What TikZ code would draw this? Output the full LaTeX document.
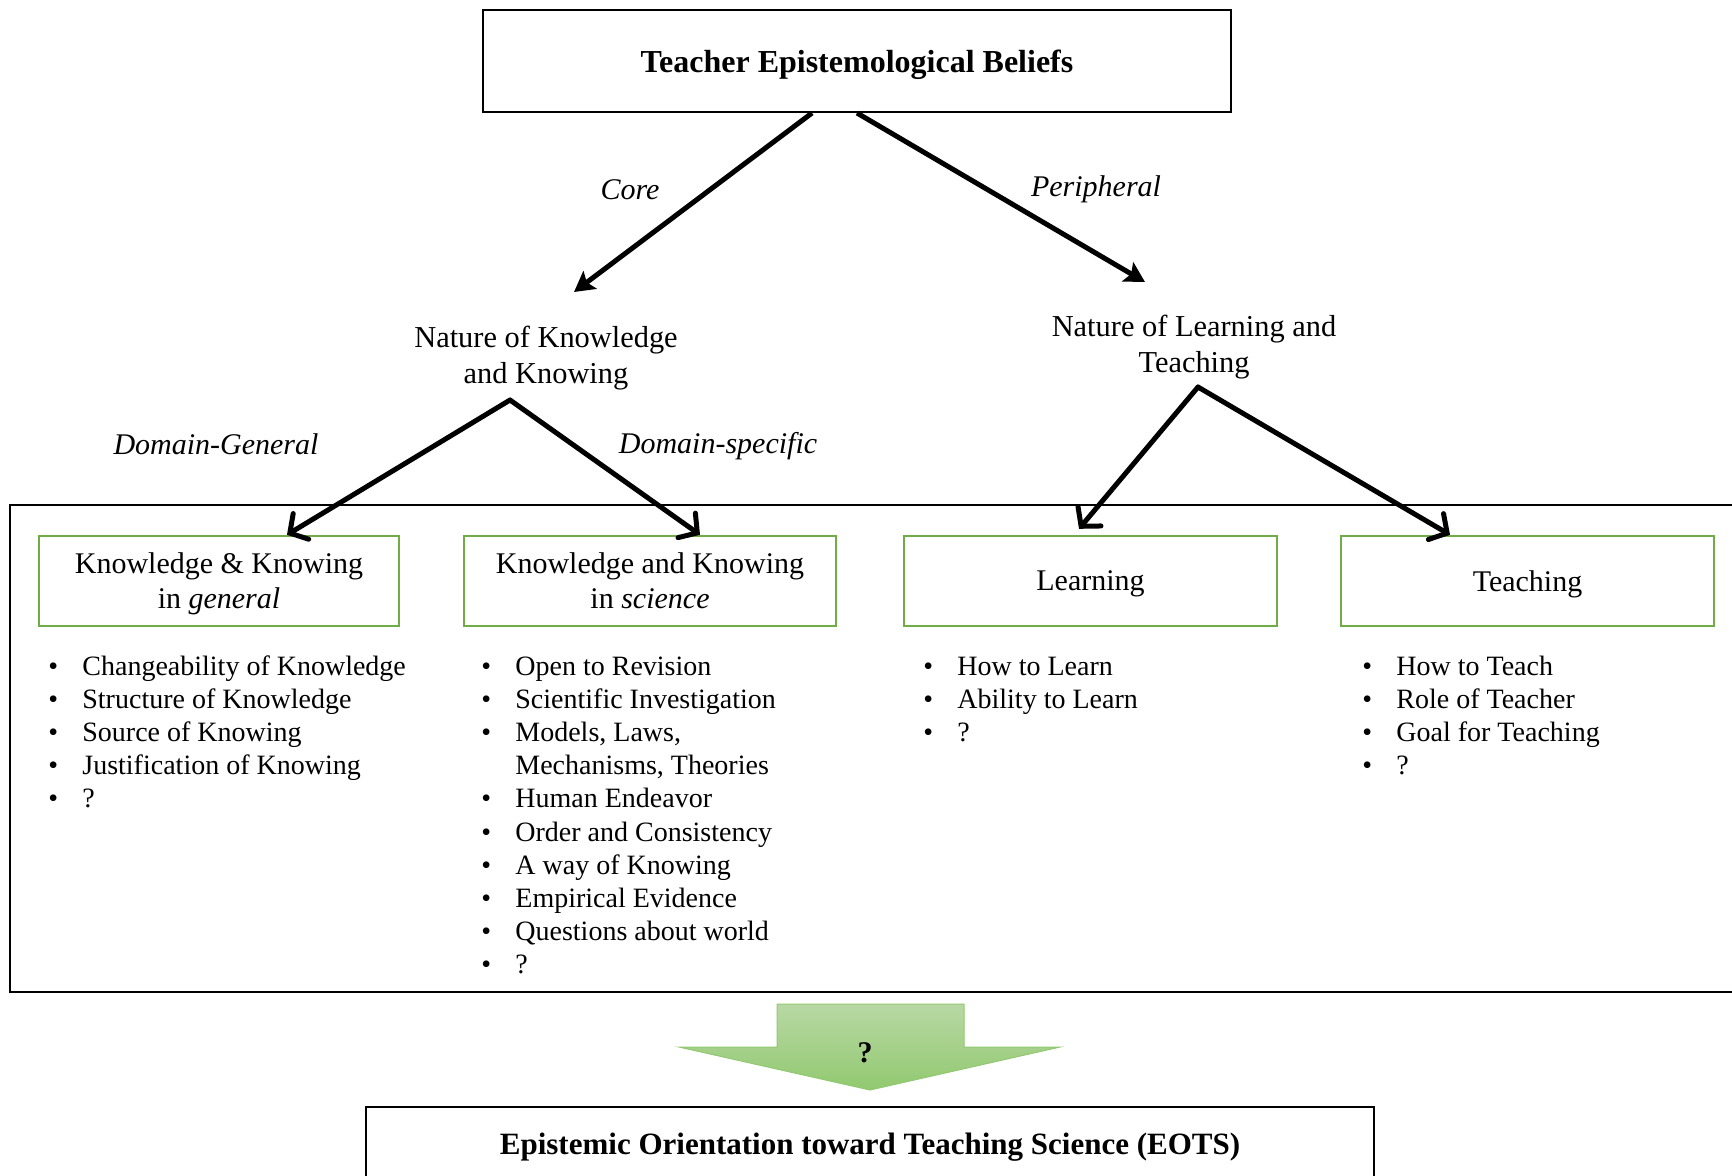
\documentclass[tikz,border=0pt]{standalone}
\usepackage{fontspec}
\setmainfont{Liberation Serif}
\usetikzlibrary{arrows.meta,calc}
\definecolor{boxgreen}{RGB}{112,173,71}
\definecolor{arrowtop}{RGB}{184,216,164}
\definecolor{arrowbot}{RGB}{146,201,112}
\tikzset{
  blackbox/.style={draw=black,line width=1pt,inner sep=0pt},
  greenbox/.style={draw=boxgreen,line width=1.2pt,minimum height=45pt,inner sep=0pt,text depth=0pt,align=center,font=\fontsize{15}{17.5}\selectfont},
  midlabel/.style={align=center,inner sep=0pt,font=\fontsize{15.2}{17.6}\selectfont},
  edgelabel/.style={inner sep=0pt,font=\fontsize{15}{17.5}\selectfont\itshape},
  toparrow/.style={line width=2.5pt,-{Stealth[length=10pt,width=11pt,inset=2pt]}},
  lowarrow/.style={line width=2.5pt,line cap=round,-{Straight Barb[length=6.5pt,width=15pt,line cap=round]}},
  bulletlist/.style={anchor=base west,inner sep=0pt,font=\fontsize{14}{16.6}\selectfont}
}
\newcommand{\bl}{\textbullet}
\begin{document}
\begin{tikzpicture}[x=0.5pt,y=-0.5pt]
\useasboundingbox (0,0) rectangle (1732,1175);
\clip (0,0) rectangle (1732,1175);
% top box
\node[blackbox,minimum width=374pt,minimum height=51pt,text depth=0pt,font=\fontsize{16}{19}\selectfont\bfseries] (top) at (857,61) {Teacher Epistemological Beliefs};
\coordinate (coreS) at (812,113);
\coordinate (periS) at (857,113);
% middle labels
\node[midlabel] (nkk) at (546,358) {Nature of Knowledge\\and Knowing};
\node[midlabel] (nlt) at (1194,347) {Nature of Learning and\\Teaching};
\coordinate (coreE) at (574,292);
\coordinate (periE) at (1145,282);
\draw[toparrow] (coreS) -- (coreE);
\draw[toparrow] (periS) -- (periE);
\node[edgelabel] (lcore) at (630,190) {Core};
\node[edgelabel] (lperi) at (1096,189) {Peripheral};
% big box
\draw[line width=1pt] (10,505) rectangle (1760,992);
% green boxes
\node[greenbox,minimum width=180pt] (g1) at (219,581) {Knowledge \& Knowing\\in \textit{general}};
\node[greenbox,minimum width=186pt] (g2) at (650,581) {Knowledge and Knowing\\in \textit{science}};
\node[greenbox,minimum width=186.5pt] (g3) at (1090.5,581) {Learning};
\node[greenbox,minimum width=186.5pt] (g4) at (1527.5,581) {Teaching};
% lower arrows
\coordinate (nkkS) at (510,400);
\coordinate (nltS) at (1198,387);
\draw[lowarrow] (nkkS) -- (g1.north -| 287,0);
\draw[lowarrow] (nkkS) -- (g2.north -| 700,0);
\draw[lowarrow] (nltS) -- ($(g3.north -| 1079,0)+(0,-6)$);
\draw[lowarrow] (nltS) -- (g4.north -| 1450,0);
\node[edgelabel] (ldg) at (216,444) {Domain-General};
\node[edgelabel] (lds) at (718,446) {Domain-specific};
% bullet lists
\node[bulletlist] (l1) at (48,675) {\begin{tabular}[t]{@{}p{17pt}@{}l@{}}
\bl & Changeability of Knowledge\\
\bl & Structure of Knowledge\\
\bl & Source of Knowing\\
\bl & Justification of Knowing\\
\bl & ?
\end{tabular}};
\node[bulletlist] (l2) at (481,675) {\begin{tabular}[t]{@{}p{17pt}@{}l@{}}
\bl & Open to Revision\\
\bl & Scientific Investigation\\
\bl & Models, Laws,\\
 & Mechanisms, Theories\\
\bl & Human Endeavor\\
\bl & Order and Consistency\\
\bl & A way of Knowing\\
\bl & Empirical Evidence\\
\bl & Questions about world\\
\bl & ?
\end{tabular}};
\node[bulletlist] (l3) at (923,675) {\begin{tabular}[t]{@{}p{17pt}@{}l@{}}
\bl & How to Learn\\
\bl & Ability to Learn\\
\bl & ?
\end{tabular}};
\node[bulletlist] (l4) at (1362,675) {\begin{tabular}[t]{@{}p{17pt}@{}l@{}}
\bl & How to Teach\\
\bl & Role of Teacher\\
\bl & Goal for Teaching\\
\bl & ?
\end{tabular}};
% green block arrow
\shade[top color=arrowtop,bottom color=arrowbot,draw=arrowbot,line width=0.5pt]
  (777,1004) -- (964,1004) -- (964,1047) -- (1060,1047) -- (870,1090) -- (679,1047) -- (777,1047) -- cycle;
\node[inner sep=0pt,font=\fontsize{15}{17.5}\selectfont\bfseries] (q) at (865,1053) {?};
% bottom box
\draw[line width=1pt] (366,1107) rectangle (1374,1200);
\node[inner sep=0pt,font=\fontsize{15.5}{18}\selectfont\bfseries] (eots) at (870,1147.5) {Epistemic Orientation toward Teaching Science (EOTS)};
\end{tikzpicture}
\end{document}
